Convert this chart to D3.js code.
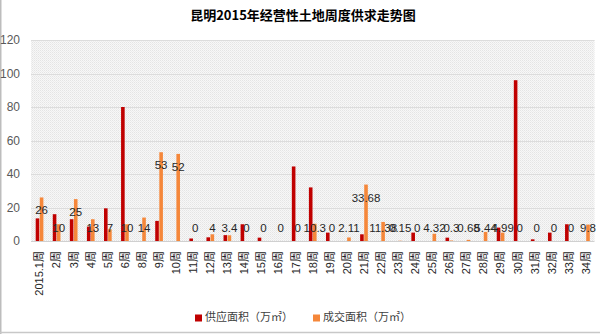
<!DOCTYPE html>
<html><head><meta charset="utf-8">
<script src="https://cdn.jsdelivr.net/npm/d3@7"></script>
<style>
html,body{margin:0;padding:0;background:#fff;}
svg{display:block;font-family:"Liberation Sans","Noto Sans CJK SC",sans-serif;}
</style></head>
<body><svg id="c" width="600" height="334"></svg>
<script>
const categories = ["2015.1周","2周","3周","4周","5周","6周","8周","9周","10周","11周","12周","13周","14周","15周","16周","17周","18周","19周","20周","21周","22周","23周","24周","25周","26周","27周","28周","29周","30周","31周","32周","33周","34周"];
const supply = [13.5,16,13,8.6,19.5,80,0,12,0,1.5,2.2,3.5,10,2,0,44.5,32,5,0,4,0,0,5,0,2,0,0,8,96,1,5,10,0];
const demand = [26,10,25,13,7,10,14,53,52,0,4,3.4,0,0,0,0,10.3,0,2.11,33.68,11.38,0.15,0,4.32,0.3,0.68,5.44,4.99,0,0,0,0,9.8];
const seriesNames = ["供应面积（万㎡）","成交面积（万㎡）"];
const colors = ["#C00000","#F5873A"];
const yTicks = [0,20,40,60,80,100,120];
const title = "昆明2015年经营性土地周度供求走势图";

const svg = d3.select("#c");
const L = 31, R = 594.5, T = 40, B = 241;

// frame shadow
svg.append("line").attr("x1",0.75).attr("x2",0.75).attr("y1",0).attr("y2",334).attr("stroke","#bdbdbd").attr("stroke-width",1.5);
svg.append("line").attr("x1",0).attr("x2",600).attr("y1",332.5).attr("y2",332.5).attr("stroke","#c8c8c8").attr("stroke-width",1.5);

const defs = svg.append("defs");
const pat = defs.append("pattern").attr("id","dots").attr("width",2).attr("height",2).attr("patternUnits","userSpaceOnUse");
pat.append("rect").attr("width",2).attr("height",2).attr("fill","#f7f7f7");
pat.append("rect").attr("width",1).attr("height",1).attr("fill","#e4e4e4");
pat.append("rect").attr("x",1).attr("y",1).attr("width",1).attr("height",1).attr("fill","#ececec");

svg.append("rect").attr("x",L).attr("y",T).attr("width",R-L).attr("height",B-T).attr("fill","url(#dots)");

svg.append("text").attr("x",303).attr("y",16).attr("text-anchor","middle").attr("dominant-baseline","middle")
  .attr("font-size",13).attr("font-weight","bold").attr("fill","#000")
  .style("font-family","'Noto Sans CJK SC',sans-serif").text(title);

const y = d3.scaleLinear().domain([0,120]).range([B,T]);
const x0 = d3.scaleBand().domain(categories).range([L,R]).paddingInner(0.55).paddingOuter(0.275);
const x1 = d3.scaleBand().domain([0,1]).range([0,x0.bandwidth()]).paddingInner(0.12);

// gridlines
svg.append("g").selectAll("line").data(yTicks).join("line")
  .attr("x1",L).attr("x2",R).attr("y1",d=>Math.round(y(d))+0.5).attr("y2",d=>Math.round(y(d))+0.5)
  .attr("stroke",d=>d===0?"#d0d0d0":"#dcdcdc").attr("stroke-width",1);

// y axis labels
const yAxis = d3.axisLeft(y).tickValues(yTicks).tickSize(0).tickPadding(0);
const gy = svg.append("g").attr("transform",`translate(${L-11},0)`).call(yAxis);
gy.select(".domain").remove();
gy.selectAll("text").attr("font-size",12).attr("fill","#595959").style("font-family","'Liberation Sans',sans-serif");

// bars
const groups = svg.append("g").selectAll("g").data(categories).join("g")
  .attr("transform",d=>`translate(${x0(d)},0)`);
[supply,demand].forEach((arr,si)=>{
  groups.append("rect")
    .attr("x",x1(si)).attr("width",x1.bandwidth())
    .attr("y",(d,i)=>y(arr[i])).attr("height",(d,i)=>y(0)-y(arr[i]))
    .attr("fill",colors[si]);
});

// data labels (demand series)
groups.append("text")
  .attr("x",x1(1)+x1.bandwidth()/2)
  .attr("y",(d,i)=>Math.min(y(demand[i])+14, y(0)-12))
  .attr("text-anchor","middle").attr("dominant-baseline","middle")
  .attr("font-size",11.5).attr("fill","#262626")
  .text((d,i)=>String(demand[i]));

// x axis labels
const xAxis = d3.axisBottom(x0).tickSize(0).tickPadding(0);
const gx = svg.append("g").attr("transform",`translate(0,${B})`).call(xAxis);
gx.select(".domain").remove();
gx.selectAll("text").attr("font-size",11).attr("fill","#262626")
  .attr("transform","rotate(-90)").attr("text-anchor","end")
  .attr("x",-10).attr("y",0).attr("dy","0.35em")
  .style("font-family","'Liberation Sans','Noto Sans CJK SC',sans-serif");

// legend
const legX = [195, 313];
const leg = svg.append("g").selectAll("g").data(seriesNames).join("g")
  .attr("transform",(d,i)=>`translate(${legX[i]},318)`);
leg.append("rect").attr("x",0).attr("y",-3.5).attr("width",7).attr("height",7).attr("fill",(d,i)=>colors[i]);
leg.append("text").attr("x",10).attr("y",0).attr("dominant-baseline","middle")
  .attr("font-size",11).attr("fill","#404040").style("font-family","'Noto Sans CJK SC',sans-serif").text(d=>d);
</script></body></html>
